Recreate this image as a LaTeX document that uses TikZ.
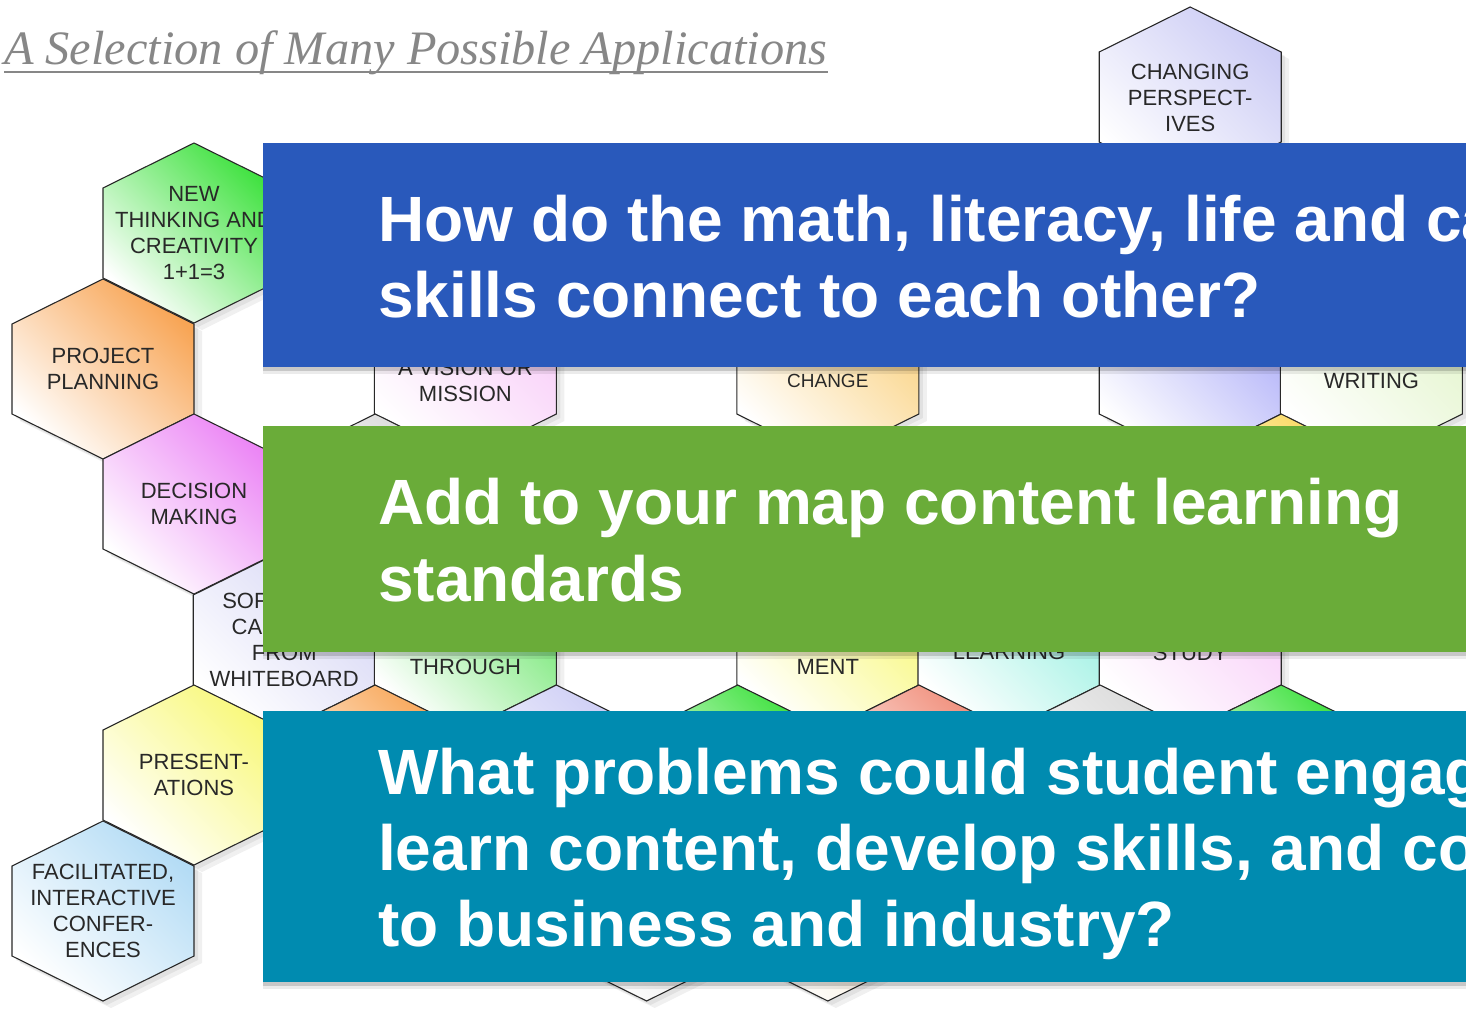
\documentclass[tikz,border=0pt]{standalone}
\usepackage{fontspec}
\setmainfont{Liberation Sans}
\newfontfamily\titlefont{Liberation Serif}
\usepackage{graphicx}
\usetikzlibrary{shadows}

\definecolor{boxblue}{RGB}{41,89,187}
\definecolor{boxgreen}{RGB}{106,172,57}
\definecolor{boxteal}{RGB}{0,139,176}
\definecolor{titlegray}{RGB}{135,135,135}
\definecolor{hexline}{RGB}{40,40,40}
\definecolor{hexlav}{RGB}{205,205,245}
\definecolor{hexgreen}{RGB}{60,225,60}
\definecolor{hexorange}{RGB}{248,165,85}
\definecolor{hexpink}{RGB}{248,205,248}
\definecolor{hexpeach}{RGB}{250,210,130}
\definecolor{hexperi}{RGB}{175,175,248}
\definecolor{hexcream}{RGB}{228,245,205}
\definecolor{hexmagenta}{RGB}{235,130,245}
\definecolor{hexgray}{RGB}{218,218,218}
\definecolor{hexyellowb}{RGB}{250,215,90}
\definecolor{hexlavb}{RGB}{215,215,245}
\definecolor{hexgreenb}{RGB}{110,230,110}
\definecolor{hexyellow}{RGB}{248,248,120}
\definecolor{hexcyan}{RGB}{150,240,225}
\definecolor{hexsalmon}{RGB}{240,140,120}
\definecolor{hexblue}{RGB}{180,220,245}
\definecolor{hexbeige}{RGB}{240,220,185}

\tikzset{
  hexshape/.style={draw=hexline, line width=1.1pt, line join=miter,
    shade, top color=#1, middle color=#1!55!white, bottom color=white, shading angle=-45},
  hexshadow/.style={fill=black, opacity=0.06},
  hextext/.style={text=hexline, align=center, inner sep=0pt,
    font=\fontsize{22}{26}\selectfont},
  qbox/.style={fill=#1, draw=none,
    drop shadow={shadow xshift=0pt, shadow yshift=-7pt, opacity=0.08, fill=black},
    drop shadow={shadow xshift=0pt, shadow yshift=-4pt, opacity=0.15, fill=black}},
  qtext/.style={text=white, anchor=base west, inner sep=0pt,
    font=\fontsize{64}{76}\bfseries\selectfont}
}

\newcommand\hexpath[2]{(#1,#2) ++(-91,-45) -- ++(91,-45) -- ++(91,45) -- ++(0,90) -- ++(-91,45) -- ++(-91,-45) -- cycle}

\begin{document}
\begin{tikzpicture}[x=1pt,y=-1pt]
\useasboundingbox (0,0) rectangle (1466,1014);
\clip (0,0) rectangle (1466,1014);
\fill[white] (0,0) rectangle (1466,1014);

% title
\node[anchor=base west, inner sep=0pt, text=titlegray] (title) at (4,65)
  {\resizebox{823pt}{\height}{\titlefont\itshape\fontsize{48}{50}\selectfont A Selection of Many Possible Applications}};
\draw[titlegray, line width=2.2pt] (4,72) -- (828,72);

% hexagon cells: shadows first
\def\hexlist{1190.2/97/hexlav, 194/233/hexgreen, 103/369/hexorange, 465.4/369/hexpink,
  827.8/369/hexpeach, 1190.2/369/hexperi, 1371.4/369/hexcream, 194/504/hexmagenta,
  375.2/504/hexgray, 1281.2/504/hexyellowb, 284.2/640/hexlavb, 465.4/640/hexgreenb,
  827.8/640/hexyellow, 1009/640/hexcyan, 1190.2/640/hexpink, 194/775/hexyellow,
  375.2/775/hexorange, 556.4/775/hexlav, 737.6/775/hexgreen, 918.8/775/hexsalmon,
  1100/775/hexgray, 1281.2/775/hexgreen, 103/911/hexblue, 646.6/911/hexgray, 827.8/911/hexbeige}
\foreach \hx/\hy/\hc in \hexlist {
  \fill[hexshadow] \hexpath{\hx+4}{\hy+4};
  \fill[hexshadow] \hexpath{\hx+8}{\hy+7};
}
\foreach \hx/\hy/\hc in \hexlist {
  \path[hexshape=\hc] \hexpath{\hx}{\hy};
}

% hexagon texts
\node[hextext] (tchanging) at (1190.2,98) {CHANGING\\PERSPECT-\\IVES};
\node[hextext] (tnew) at (194,233) {NEW\\THINKING AND\\CREATIVITY\\1+1=3};
\node[hextext] (tproject) at (103,369) {PROJECT\\PLANNING};
\node[hextext] (tmission) at (465.4,381) {A VISION OR\\MISSION};
\node[hextext, font=\fontsize{19}{24}\selectfont] (tchange) at (827.8,381) {CHANGE};
\node[hextext] (twriting) at (1371.4,381) {WRITING};
\node[hextext] (tdecision) at (194,504) {DECISION\\MAKING};
\node[hextext] (tsoftware) at (284.2,640) {SOFTWARE\\CAPTURE\\FROM\\WHITEBOARD};
\node[hextext] (tthrough) at (465.4,667) {THROUGH};
\node[hextext] (tment) at (827.8,667) {MENT};
\node[hextext] (tlearning) at (1009,652) {LEARNING};
\node[hextext] (tstudy) at (1190.2,653) {STUDY};
\node[hextext] (tpresent) at (194,775) {PRESENT-\\ATIONS};
\node[hextext] (tfacil) at (103,911) {FACILITATED,\\INTERACTIVE\\CONFER-\\ENCES};

% question boxes
\path[qbox=boxblue] (263,143) rectangle (1490,367);
\path[qbox=boxgreen] (263,426) rectangle (1490,652);
\path[qbox=boxteal] (263,711) rectangle (1490,982);

\node[qtext] (q1a) at (378,241) {How do the math, literacy, life and ca};
\node[qtext] (q1b) at (378,317) {skills connect to each other?};
\node[qtext] (q2a) at (378,524) {Add to your map content learning};
\node[qtext] (q2b) at (378,601) {standards};
\node[qtext] (q3a) at (378,794) {What problems could student engag};
\node[qtext] (q3b) at (378,870) {learn content, develop skills, and co};
\node[qtext] (q3c) at (378,946) {to business and industry?};
\end{tikzpicture}
\end{document}
